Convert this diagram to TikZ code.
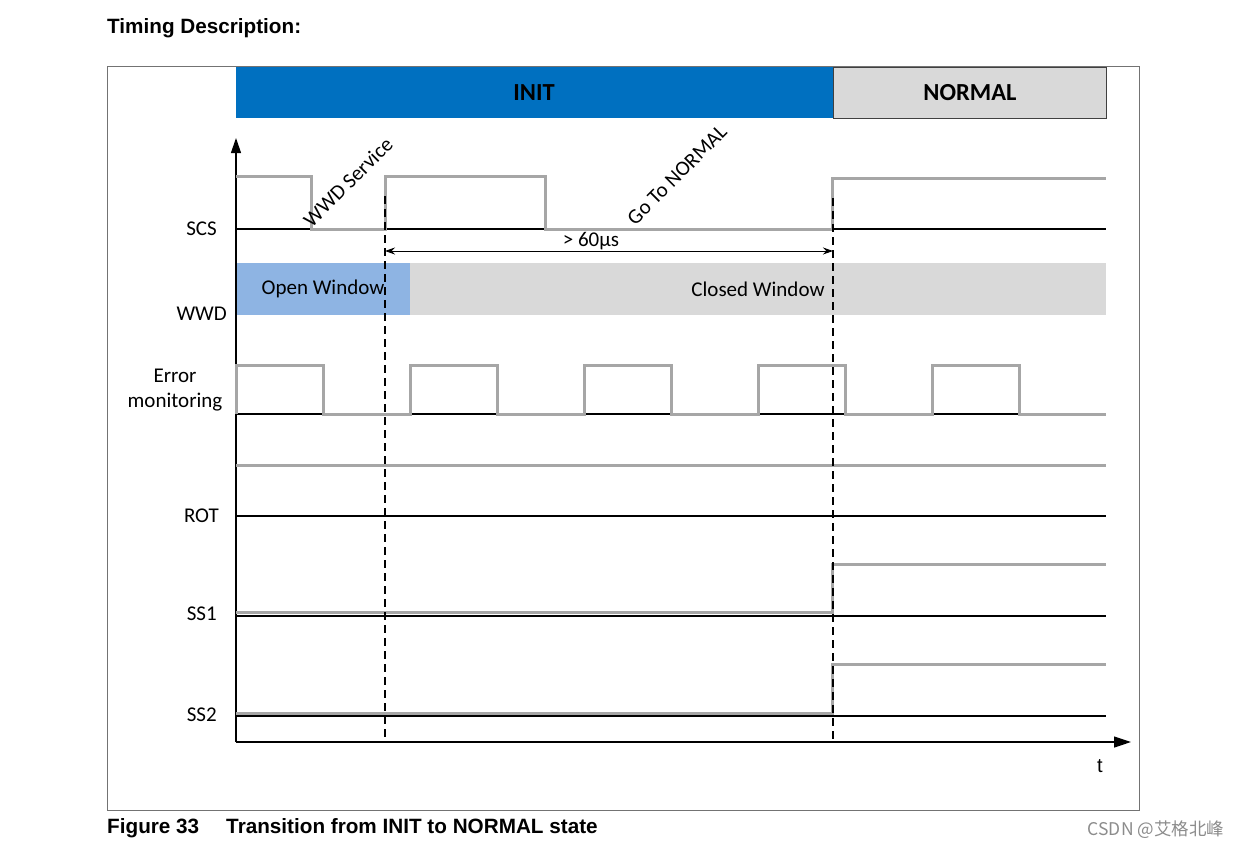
\documentclass[tikz,border=0pt]{standalone}
\usepackage{fontspec}
\setmainfont{Carlito}
\newfontfamily\arialfont{Liberation Sans}
\newfontfamily\cjkfont{Noto Sans CJK SC}
\usetikzlibrary{arrows.meta}
\definecolor{initblue}{HTML}{0070C0}
\definecolor{openblue}{HTML}{8EB4E3}
\definecolor{lgray}{HTML}{D9D9D9}
\definecolor{sig}{HTML}{A6A6A6}
\begin{document}
\begin{tikzpicture}[x=1pt,y=-1pt,
  sigline/.style={draw=sig,line width=3pt},
  refline/.style={draw=black,line width=1.2pt},
  lbl/.style={font=\fontsize{21}{25}\selectfont,anchor=east,inner sep=0pt},
  wintext/.style={font=\fontsize{21}{25}\selectfont,inner sep=0pt},
  statetext/.style={font=\bfseries\fontsize{24.5}{28}\selectfont,inner sep=0pt},
  rottext/.style={font=\fontsize{21}{25}\selectfont,rotate=45,inner sep=0pt},
  dashline/.style={draw=black,line width=1.1pt,dash pattern=on 8pt off 5pt},
  arialbold/.style={font=\arialfont\bfseries\fontsize{20.7}{24}\selectfont,anchor=west,inner sep=0pt}
]
\useasboundingbox (0,0) rectangle (1240,849);
\fill[white] (0,0) rectangle (1240,849);

% title and caption
\node[arialbold] (title) at (107,28) {Timing Description:};
\node[arialbold] (caption) at (107,828) {Figure 33\hspace{27pt}Transition from INIT to NORMAL state};
\node[font=\cjkfont\fontsize{17.5}{20}\selectfont,text=black!45,inner sep=0pt] (wm) at (1156,830) {CSDN @艾格北峰};

% frame
\draw[draw=black!55,line width=1pt] (107,66) rectangle (1139,810);

% state bars
\fill[initblue] (236,67) rectangle (833,118);
\draw[fill=lgray,draw=black!75,line width=1pt] (833,67) rectangle (1106,118);
\node[statetext] (init) at (534,93) {INIT};
\node[statetext] (normal) at (970,93) {NORMAL};

% WWD windows
\fill[openblue] (236,263) rectangle (410,315);
\fill[lgray] (410,263) rectangle (1106,315);
\node[wintext] (open) at (323,289) {Open Window};
\node[wintext] (closed) at (758,289) {Closed Window};

% signal labels
\node[lbl] (scs) at (217,229) {SCS};
\node[lbl] (wwd) at (227,314) {WWD};
\node[font=\fontsize{21}{25}\selectfont,align=center,inner sep=0pt] (err) at (175,390) {Error\\monitoring};
\node[lbl] (rot) at (219,516) {ROT};
\node[lbl] (ss1) at (217,614) {SS1};
\node[lbl] (ss2) at (217,715) {SS2};

% reference lines
\foreach \y in {229,414,516,616,716}
  \draw[refline] (236,\y) -- (1106,\y);

% axes
\coordinate (o) at (236,742);
\coordinate (ytop) at (236,138);
\coordinate (xend) at (1131,742);
\draw[line width=1.2pt,-{Triangle[length=15pt,width=10pt]}] (o) -- (ytop);
\draw[line width=1.2pt,-{Triangle[length=17pt,width=11pt]}] (o) -- (xend);
\node[font=\arialfont\fontsize{20}{24}\selectfont,inner sep=0pt] (t) at (1100,766) {t};

% signals
\draw[sigline] (236,176) -- (311,176) -- (311,229) -- (385,229) -- (385,176) -- (545,176) -- (545,229) -- (832,229) -- (832,178) -- (1106,178);
\draw[sigline] (236,414) -- (236,365) -- (323,365) -- (323,414) -- (410,414) -- (410,365) -- (497,365) -- (497,414) -- (584,414) -- (584,365) -- (671,365) -- (671,414) -- (758,414) -- (758,365) -- (845,365) -- (845,414) -- (932,414) -- (932,365) -- (1019,365) -- (1019,414) -- (1106,414);
\draw[sigline] (236,465) -- (1106,465);
\draw[sigline] (236,612) -- (832,612) -- (832,564) -- (1106,564);
\draw[sigline] (236,713) -- (832,713) -- (832,664) -- (1106,664);

% rotated annotations
\node[rottext] (wwdsvc) at (348,182) {WWD Service};
\node[rottext] (gotonormal) at (677,175) {Go To NORMAL};

% dashed markers
\coordinate (d1t) at (385,196);
\coordinate (d1b) at (385,742);
\coordinate (d2t) at (833,198);
\coordinate (d2b) at (833,742);
\draw[dashline] (d1t) -- (d1b);
\draw[dashline] (d2t) -- (d2b);

% timing arrow
\coordinate (a1) at (385,251);
\coordinate (a2) at (833,251);
\draw[line width=1pt,{Stealth[length=10pt,width=7pt]}-{Stealth[length=10pt,width=7pt]}] (a1) -- (a2);
\node[wintext] (t60) at (591,241) {> 60µs};
\end{tikzpicture}
\end{document}
